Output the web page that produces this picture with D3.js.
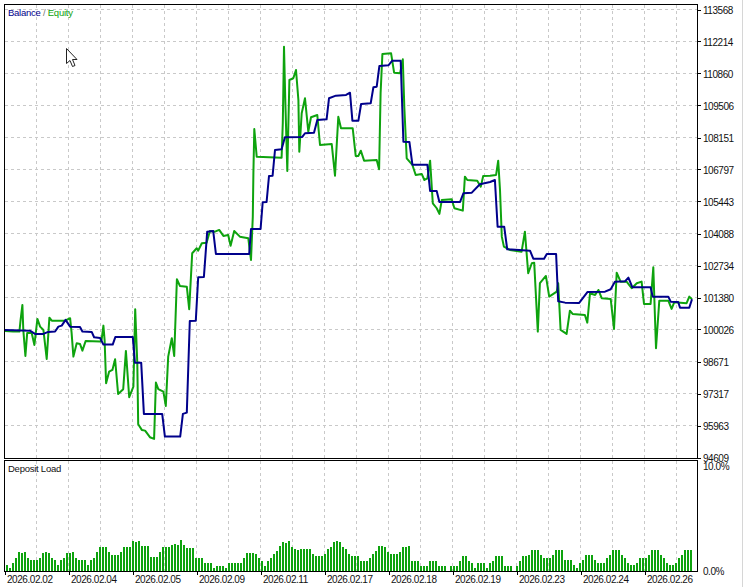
<!DOCTYPE html>
<html><head><meta charset="utf-8">
<script src="https://cdn.jsdelivr.net/npm/d3@7"></script>
<style>
html,body{margin:0;padding:0;background:#fff;overflow:hidden}
svg{display:block}
text{font-family:"Liberation Sans",Arial,sans-serif;font-size:9.5px;letter-spacing:-.25px;fill:#111}
.num text{font-size:10px;letter-spacing:-.45px}
</style></head><body><div id="chart"></div>
<script>
const yTickValues=[113568,112214,110860,109506,108151,106797,105443,104088,102734,101380,100026,98671,97317,95963,94609];
const dateLabels=["2026.02.02","2026.02.04","2026.02.05","2026.02.09","2026.02.11","2026.02.17","2026.02.18","2026.02.19","2026.02.23","2026.02.24","2026.02.26"];
const equityT=[0,2.7,4.8,5.2,5.8,6.1,6.8,7.4,8.9,9.8,10.8,11.7,12.8,13.9,14.8,15.6,20,21.7,22.2,22.8,23.9,25,25.8,26.9,31.7,32.2,32.8,33.2,33.7,34.7,35.8,36.7,37.7,39.4,40.3,41.4,42.8,43.4,44.1,44.4,45.6,46.7,48.3,49.7,50.3,51.1,52.8,53.6,54.4,55.6,56.4,57.3,58.3,60.6,61.4,62.4,63.9,64.4,65.6,67.2,68.3,70,71.4,72.8,74.4,75.2,76.4,78.3,81.1,82,82.6,82.8,83.1,83.9,92.2,92.6,93,93.4,94.1,94.8,96.1,97,97.8,98.1,98.9,100,101.1,102,104.1,105,108.9,110,111.1,112,115.9,116.9,117.8,118.6,119.7,123.9,124.7,125.2,125.8,128.7,129.7,131.7,132.6,133.1,133.9,135.8,136.9,138.9,139.8,140.8,141.7,142.6,143.9,144.8,145.6,148.9,149.8,152.6,153.3,154.1,157.4,158.6,159.4,161.7,163.7,164.4,165,165.6,166.3,168.3,172.2,173.3,174.4,175.6,176.4,177.6,178.3,180.3,181.4,183.9,184.4,185.2,187.2,188.3,189.2,193.3,194.1,195,196.7,197.8,198.9,201.9,203,203.9,205.2,207.2,208.9,210.6,212.2,213,215.2,216.1,217,218.1,221.1,222.2,223.1,227.2,228.1,229];
const equityV=[99965,99940,99940,100431,101065,100008,98908,99881,99881,99373,100473,100147,100008,98781,100528,100401,100401,100503,99881,98878,99445,99415,99132,99542,99513,99585,100190,99585,97752,98243,98315,98768,97300,97499,99119,97160,97609,100884,98599,96018,95777,95747,95468,95396,97778,97499,97397,96792,98878,99656,98908,102153,101869,101840,100884,103253,103464,103363,103676,103701,104196,104167,104239,103985,104027,103574,104196,103955,103887,102969,104801,106650,108512,107340,107298,108766,111994,109879,106735,110585,110657,111008,109739,107552,109176,109811,108398,109007,109104,107835,107877,106536,109032,108542,108542,107370,107370,107594,107171,107200,106807,110022,111685,111715,110894,110869,111461,109456,107272,106989,106566,106608,106354,106426,107171,105368,105157,104916,105508,105538,105157,105055,106494,106354,106325,106071,106523,106536,106566,107171,105931,103955,103532,103392,103320,104167,102407,102830,102855,99936,101984,102292,101417,101628,101984,100008,99838,100824,100685,100642,100316,101560,101489,101700,101349,101319,100050,102432,102051,102051,101772,101984,102051,101108,101108,102661,99233,101247,101247,100896,101180,101137,101417,101307];
const balanceT=[0,8.3,10,12.8,14.4,16.7,17.8,18.9,20.2,21.7,25,25.8,28.9,29.7,31.7,32.8,35.9,36.8,42.6,43.3,45.4,46.3,52.4,53.3,58.4,59.3,60.6,61.6,63.6,64.4,66.3,67.4,69.4,70.3,81.4,82,85.2,85.9,87.2,88,89.2,90,92.2,93.3,99.1,100,103,104.1,107.2,108,110.3,113.7,115,115.8,117.8,118.7,121.9,122.8,123.9,124.8,127.8,129.1,131.9,132.8,134.8,135.8,140.8,141.7,143.9,144.8,151.7,152.8,155.6,158.3,161.7,163.3,164.2,166.4,167.4,175,176.1,179.7,180.6,183.7,184.4,186.7,191.4,194.2,200,201.9,203.3,206.7,207.8,209.1,215.2,215.9,221.1,221.9,224.4,225,228.1,229];
const balanceV=[100008,99978,99838,99838,99923,99940,100147,100190,100431,100147,100135,99940,99923,99699,99669,99386,99386,99712,99712,98624,98624,96454,96454,95493,95493,96454,96509,100388,100401,102237,102250,104167,104196,103223,103223,104281,104281,105411,105423,106523,106536,107623,107653,108161,108174,108330,108355,108893,108922,109811,109921,109951,110048,108863,108863,109570,109599,110276,110302,111178,111207,111402,111402,107975,107962,107002,107002,105889,105889,105423,105423,105791,105817,106172,106270,106354,104378,104378,103422,103363,103024,103024,103223,103223,101222,101163,101150,101615,101628,101730,102051,102068,102221,101814,101814,101417,101417,101205,101192,100951,100951,101307];
const depositLoad=[.57,.32,.79,1.24,1.81,1.71,1.81,1.24,1.05,1.05,1.05,1.24,1.71,1.81,1.71,1.24,1.05,.57,1.05,1.24,1.71,1.71,1.81,1.24,1.05,1.05,1.05,.57,1.05,1.24,1.81,2.29,2.29,2.29,1.81,1.52,1.52,1.52,1.81,2.29,2.29,2.29,2.86,2.76,2.86,2.38,2.38,2.38,1.33,1.33,1.33,1.81,2.29,2.29,2.29,2.48,2.57,2.48,2.95,2.48,2.19,2.19,2.19,1.24,1.24,1.24,.76,.76,.76,.29,.48,.48,.48,.29,.76,.76,.76,.76,.76,1.24,1.71,1.71,
1.71,1.62,1.24,.95,.48,.95,1.24,1.62,1.9,2.38,2.76,2.67,2.86,2.29,2.1,2,2.1,2.1,2.1,2.1,1.62,1.43,1.43,1.43,1.62,2.1,2.29,2.76,2.86,2.76,2.29,2.1,1.62,1.43,1.43,1.43,.95,.95,.95,1.24,1.62,1.9,2.38,2.38,2.29,1.81,1.62,1.62,1.62,1.81,2.29,2.29,2.38,.95,.95,.95,.48,.48,.48,.95,.95,.95,.48,.48,.48,0,.48,.48,.48,.95,1.43,1.43,.95,.76,.29,.76,.76,.76,.29,.76,.95,1.43,1.43,
1.43,.48,.48,.48,0,.48,.95,1.43,1.43,1.52,2,2,2,1.52,1.24,1.24,1.24,1.52,2,2,2,1.05,1.05,1.05,.57,.29,.76,1.05,1.52,1.52,1.52,1.05,.76,.76,.76,1.24,1.52,2,2,2,1.52,1.24,.76,.57,.57,.76,1.24,1.24,1.24,1.52,2,2,2,1.52,1.24,.76,.57,.57,.76,1.24,1.52,2,2,2];

const W=744,H=587,L=4.5,R=697.5,T=4.5,B=458.5,T2=460.5,B2=571.5;
const GREEN="#0ea30e",NAVY="#00008b",GRID="#c9c9c9";
const svg=d3.select("#chart").append("svg").attr("width",W).attr("height",H);
const x=d3.scaleLinear().domain([0,229]).range([5,692]);
const y=d3.scaleLinear().domain([94609,113568]).range([457.5,9.5]);
const yLoad=d3.scaleLinear().domain([0,10]).range([571,466]);
const xDate=d3.scalePoint().domain(dateLabels).range([4.5,644.5]);
const xBar=d3.scaleBand().domain(d3.range(depositLoad.length)).range([5.5,692]).paddingInner(.33);
const gridXs=d3.range(1,22).map(k=>4.5+32*k);

// grid
const grid=svg.append("g").attr("stroke",GRID).attr("stroke-dasharray","3,3").attr("shape-rendering","crispEdges");
grid.selectAll(".v").data(gridXs).join("line").attr("x1",d=>d).attr("x2",d=>d).attr("y1",T).attr("y2",B);
grid.selectAll(".v2").data(gridXs).join("line").attr("x1",d=>d).attr("x2",d=>d).attr("y1",T2).attr("y2",B2);
grid.selectAll(".h").data(yTickValues.slice(0,-1)).join("line").attr("x1",L).attr("x2",R).attr("y1",d=>Math.round(y(d)-.5)+.5).attr("y2",d=>Math.round(y(d)-.5)+.5);

// lines
const line=d3.line().x(d=>x(d[0])).y(d=>y(d[1]));
svg.append("path").attr("d",line(d3.zip(equityT,equityV))).attr("fill","none").attr("stroke",GREEN).attr("stroke-width",2).attr("stroke-linejoin","round");
svg.append("path").attr("d",line(d3.zip(balanceT,balanceV))).attr("fill","none").attr("stroke",NAVY).attr("stroke-width",2).attr("stroke-linejoin","round");

// bars
svg.append("g").attr("fill",GREEN).attr("shape-rendering","crispEdges").selectAll("rect").data(depositLoad).join("rect")
 .attr("x",(d,i)=>Math.round(xBar(i))).attr("width",2)
 .attr("y",d=>yLoad(d)).attr("height",d=>yLoad(0)-yLoad(d));

// frames
svg.append("rect").attr("x",L).attr("y",T).attr("width",R-L).attr("height",B-T).attr("fill","none").attr("stroke","#000").attr("shape-rendering","crispEdges");
svg.append("rect").attr("x",L).attr("y",T2).attr("width",R-L).attr("height",B2-T2).attr("fill","none").attr("stroke","#000").attr("shape-rendering","crispEdges");

// axes
const ya=svg.append("g").attr("class","num").attr("transform",`translate(${R},1)`).call(d3.axisRight(y).tickValues(yTickValues).tickFormat(d3.format("d")).tickSize(3).tickPadding(2.5));
ya.selectAll("line").attr("transform","translate(0,-1)");
const yl=svg.append("g").attr("class","num").attr("transform",`translate(${R},.5)`).call(d3.axisRight(yLoad).tickValues([0,10]).tickFormat(d=>d.toFixed(1)+"%").tickSize(0).tickPadding(5.5));
const xa=svg.append("g").attr("class","num").attr("transform",`translate(0,${B2})`).call(d3.axisBottom(xDate).tickSize(3).tickPadding(1));
xa.selectAll("text").attr("text-anchor","start").attr("dx",2);
[ya,yl,xa].forEach(g=>{g.select(".domain").remove();g.selectAll("line").attr("stroke","#000").attr("shape-rendering","crispEdges");});

// labels
const leg=svg.append("text").attr("x",8).attr("y",16);
leg.append("tspan").style("fill",NAVY).text("Balance");
leg.append("tspan").style("fill","#777").text(" / ");
leg.append("tspan").style("fill",GREEN).text("Equity");
svg.append("text").attr("x",8).attr("y",472).text("Deposit Load");

// mouse pointer of the screenshot
svg.append("path").attr("d","M66.5 48.5V63.5L70 60.5L72.5 66.5L75 65.5L72.5 59.5H77Z").attr("fill","#fff").attr("stroke","#222");
// window edge
svg.append("line").attr("x1",742.5).attr("x2",742.5).attr("y1",0).attr("y2",H).attr("stroke","#d6d6d6");
</script></body></html>
